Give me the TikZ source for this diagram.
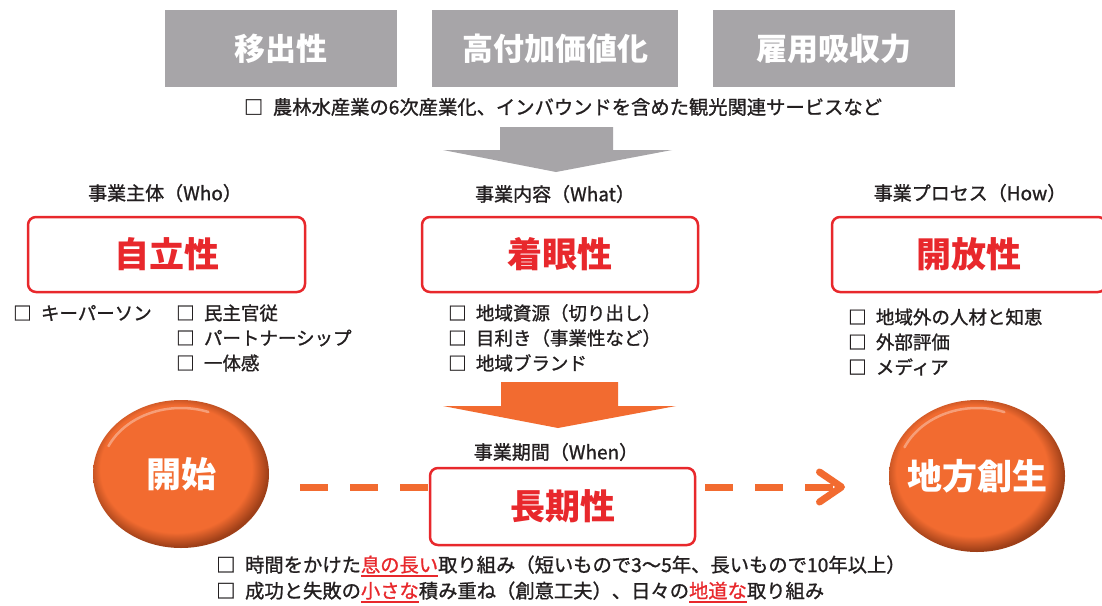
\documentclass[tikz,border=0pt]{standalone}
\usepackage{fontspec}
\setmainfont{Noto Sans CJK JP}
\newfontfamily\bodyfont{Noto Sans CJK JP}[FakeBold=1.1]
\usetikzlibrary{arrows.meta,shapes.geometric}
\definecolor{kgray}{HTML}{A7A5A8}
\definecolor{korange}{HTML}{F26B30}
\definecolor{kdark}{HTML}{9E3F18}
\definecolor{kred}{HTML}{E8282C}
\definecolor{ktext}{HTML}{231F20}
\newcommand\redul[1]{{\color{kred}\setbox0\hbox{#1}\rlap{\raisebox{-4.5pt}{\rule{\wd0}{1.8pt}}}\box0}}
\newcommand\bx{□\hspace{0.5em}}
\pgfdeclareradialshading{orb}{\pgfpoint{-2.5bp}{3bp}}{color(0bp)=(korange); color(21.5bp)=(korange); color(26bp)=(kdark); color(50bp)=(kdark)}
\tikzset{
  graybox/.style={fill=kgray, minimum width=#1, minimum height=77pt, inner sep=0pt, text=white,
    font=\fontsize{31}{31}\selectfont\bfseries},
  redbox/.style={draw=kred, line width=2.5pt, rounded corners=8pt, fill=white, minimum width=#1,
    minimum height=75pt, inner sep=0pt, text=kred, font=\fontsize{35}{35}\selectfont\bfseries},
  lab/.style={inner sep=0pt, text=ktext, font=\bodyfont\fontsize{19}{19}\selectfont},
  item/.style={inner sep=0pt, anchor=west, text=ktext, font=\bodyfont\fontsize{18.5}{18.5}\selectfont},
  orbnode/.style={ellipse, shading=orb, minimum width=176pt, minimum height=#1, inner sep=0pt,
    text=white, font=\fontsize{35}{35}\selectfont\bfseries},
  dashline/.style={draw=korange, line width=7pt, dash pattern=on 28pt off 22pt},
  hl/.style={draw=white, opacity=0.35, line width=2.5pt, line cap=round}
}
\begin{document}
\begin{tikzpicture}[x=1pt,y=-1pt]
\useasboundingbox (0,0) rectangle (1102,605);
\fill[white] (0,0) rectangle (1102,605);
\clip (0,0) rectangle (1102,605);
% top gray boxes
\node[graybox=232pt] (g1) at (281,48.5) {移出性};
\node[graybox=246pt] (g2) at (555,48.5) {高付加価値化};
\node[graybox=242pt] (g3) at (834,48.5) {雇用吸収力};
\node[lab, font=\bodyfont\fontsize{19.3}{19.3}\selectfont] (scope) at (563,107) {\bx 農林水産業の6次産業化、インバウンドを含めた観光関連サービスなど};
% gray arrow
\fill[kgray] (500,127) -- (613,127) -- (613,150) -- (672,150) -- (556,172) -- (443,150) -- (500,150) -- cycle;
% labels
\node[lab] (who) at (165,193) {事業主体（Who）};
\node[lab] (what) at (555,194) {事業内容（What）};
\node[lab] (how) at (970,193) {事業プロセス（How）};
% red boxes
\node[redbox=277pt] (jiritsu) at (166.5,254.5) {自立性};
\node[redbox=276pt] (chakugan) at (560,254.5) {着眼性};
\node[redbox=274pt] (kaiho) at (969,254.5) {開放性};
% lists
\node[item] (w1) at (13,313) {\bx キーパーソン};
\node[item] (w2) at (176,313) {\bx 民主官従};
\node[item] (w3) at (176,338) {\bx パートナーシップ};
\node[item] (w4) at (176,363) {\bx 一体感};
\node[item] (a1) at (448,313) {\bx 地域資源（切り出し）};
\node[item] (a2) at (448,338) {\bx 目利き（事業性など）};
\node[item] (a3) at (448,363) {\bx 地域ブランド};
\node[item] (h1) at (848,317) {\bx 地域外の人材と知恵};
\node[item] (h2) at (848,342) {\bx 外部評価};
\node[item] (h3) at (848,367) {\bx メディア};
% orange arrow
\fill[korange] (501,382) -- (618,382) -- (618,406) -- (676,406) -- (558,428) -- (443,406) -- (501,406) -- cycle;
\node[lab] (when) at (556,452) {事業期間（When）};
\node[redbox=265pt, minimum height=77pt] (choki) at (562.5,506.5) {長期性};
% orbs
\node[orbnode=148pt] (start) at (181,474) {\makebox[0pt]{開始}};
\node[orbnode=152pt] (goal) at (977,476) {\makebox[0pt]{地方創生}};
\draw[hl] ([shift={(205:80 and 66)}]start.center) arc[start angle=205, end angle=290, x radius=80, y radius=66];
\draw[hl] ([shift={(205:80 and 68)}]goal.center) arc[start angle=205, end angle=290, x radius=80, y radius=68];
% dashed connectors
\coordinate (d1) at (300,487);
\coordinate (d2) at (705,487);
\coordinate (d3) at (845,487);
\draw[dashline] (d1) -- (d1 -| choki.west);
\draw[dashline, -{Straight Barb[length=22pt, width=30pt, line width=7pt, round]}] (d2) -- (d3);
% bottom lines
\node[item, font=\bodyfont\fontsize{19.3}{19.3}\selectfont] (b1) at (216,566) {\bx 時間をかけた\redul{息の長い}取り組み（短いもので3～5年、長いもので10年以上）};
\node[item, font=\bodyfont\fontsize{19.3}{19.3}\selectfont] (b2) at (216,592) {\bx 成功と失敗の\redul{小さな}積み重ね（創意工夫）、日々の\redul{地道な}取り組み};
\end{tikzpicture}
\end{document}
